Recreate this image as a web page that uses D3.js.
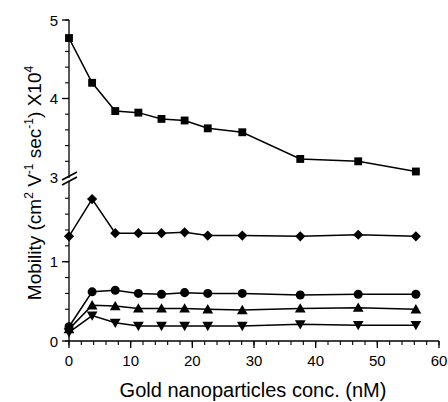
<!DOCTYPE html>
<html>
<head>
<meta charset="utf-8">
<script src="https://d3js.org/d3.v7.min.js"></script>
<style>
  body { margin: 0; background: #fff; }
  text { font-family: "Liberation Sans", Arial, sans-serif; fill: #000; }
</style>
</head>
<body>
<div id="chart"></div>
<script>
// data
const conc = [0, 3.75, 7.5, 11.25, 15, 18.75, 22.5, 28.1, 37.5, 46.9, 56.25];
const squareVals   = [4.77, 4.20, 3.84, 3.82, 3.74, 3.72, 3.62, 3.57, 3.23, 3.20, 3.07];
const diamondVals  = [1.32, 1.79, 1.36, 1.36, 1.36, 1.37, 1.33, 1.33, 1.32, 1.34, 1.32];
const circleVals   = [0.18, 0.62, 0.64, 0.60, 0.59, 0.61, 0.60, 0.60, 0.58, 0.59, 0.59];
const triangleVals = [0.15, 0.45, 0.44, 0.41, 0.41, 0.41, 0.40, 0.39, 0.41, 0.42, 0.40];
const invTriVals   = [0.11, 0.32, 0.23, 0.19, 0.19, 0.19, 0.19, 0.19, 0.21, 0.20, 0.20];
const xTicks = [0, 10, 20, 30, 40, 50, 60];
const yLowTicks = [0, 1];
const yHighTicks = [3, 4, 5];

const width = 448, height = 402;
const svg = d3.select("#chart").append("svg")
    .attr("width", width)
    .attr("height", height);

//  scales: one x, two y (broken axis)
const x = d3.scaleLinear().domain([0, 60]).range([69, 439]);
const yLow = d3.scaleLinear().domain([0, 2]).range([341, 182.4]);
const yHigh = d3.scaleLinear().domain([3, 5]).range([177, 20]);

const axisColor = "#000";

//  x axis
const xAxis = svg.append("g").attr("transform", `translate(0,${341})`);
xAxis.append("line").attr("x1", 69).attr("x2", 439).attr("stroke", axisColor).attr("stroke-width", 1.3);
xAxis.selectAll(".minor").data(d3.range(0, 61, 2)).join("line")
    .attr("x1", d => x(d)).attr("x2", d => x(d))
    .attr("y1", 0).attr("y2", 4)
    .attr("stroke", axisColor).attr("stroke-width", 1.1);
xAxis.selectAll(".major").data(xTicks).join("line")
    .attr("x1", d => x(d)).attr("x2", d => x(d))
    .attr("y1", 0).attr("y2", 7)
    .attr("stroke", axisColor).attr("stroke-width", 1.3);
xAxis.selectAll("text").data(xTicks).join("text")
    .attr("x", d => x(d)).attr("y", 25)
    .attr("text-anchor", "middle")
    .attr("font-size", 15)
    .text(d => d);

//  y axis, two pieces
const yAxis = svg.append("g");
yAxis.append("line").attr("x1", 69).attr("x2", 69).attr("y1", 20).attr("y2", 178)
    .attr("stroke", axisColor).attr("stroke-width", 1.3);
yAxis.append("line").attr("x1", 69).attr("x2", 69).attr("y1", 181).attr("y2", 341)
    .attr("stroke", axisColor).attr("stroke-width", 1.3);

const lowMinor = d3.range(0, 1.81, 0.2);
const highMinor = d3.range(3.2, 5.01, 0.2);
yAxis.selectAll(".lm").data(lowMinor).join("line")
    .attr("x1", 65).attr("x2", 69)
    .attr("y1", d => yLow(d)).attr("y2", d => yLow(d))
    .attr("stroke", axisColor).attr("stroke-width", 1.1);
yAxis.selectAll(".hm").data(highMinor).join("line")
    .attr("x1", 65).attr("x2", 69)
    .attr("y1", d => yHigh(d)).attr("y2", d => yHigh(d))
    .attr("stroke", axisColor).attr("stroke-width", 1.1);
yAxis.selectAll(".lM").data(yLowTicks).join("line")
    .attr("x1", 62).attr("x2", 69)
    .attr("y1", d => yLow(d)).attr("y2", d => yLow(d))
    .attr("stroke", axisColor).attr("stroke-width", 1.3);
yAxis.selectAll(".hM").data(yHighTicks.filter(d => d > 3)).join("line")
    .attr("x1", 62).attr("x2", 69)
    .attr("y1", d => yHigh(d)).attr("y2", d => yHigh(d))
    .attr("stroke", axisColor).attr("stroke-width", 1.3);
yAxis.selectAll(".ll").data(yLowTicks).join("text")
    .attr("x", 58).attr("y", d => yLow(d) + 5.5)
    .attr("text-anchor", "end").attr("font-size", 15)
    .text(d => d);
yAxis.selectAll(".hl").data(yHighTicks).join("text")
    .attr("x", 58).attr("y", d => yHigh(d) + 5.5)
    .attr("text-anchor", "end").attr("font-size", 15)
    .text(d => d);

//  break marks
[0, 5].forEach(off => {
    yAxis.append("line")
        .attr("x1", 62).attr("y1", 180 + off)
        .attr("x2", 77).attr("y2", 172 + off)
        .attr("stroke", axisColor).attr("stroke-width", 1.6);
});

//  titles
svg.append("text")
    .attr("x", 253).attr("y", 397)
    .attr("text-anchor", "middle")
    .attr("font-size", 20)
    .text("Gold nanoparticles conc. (nM)");

const yTitle = svg.append("text")
    .attr("transform", "translate(41,183) rotate(-90)")
    .attr("text-anchor", "middle")
    .attr("font-size", 19);
yTitle.append("tspan").text("Mobility (cm");
yTitle.append("tspan").attr("dy", -8).attr("font-size", 12).text("2");
yTitle.append("tspan").attr("dy", 8).text(" V");
yTitle.append("tspan").attr("dy", -8).attr("font-size", 12).text("-1");
yTitle.append("tspan").attr("dy", 8).text(" sec");
yTitle.append("tspan").attr("dy", -8).attr("font-size", 12).text("-1");
yTitle.append("tspan").attr("dy", 8).text(") X10");
yTitle.append("tspan").attr("dy", -8).attr("font-size", 12).text("4");

//  series
const series = [
    {vals: squareVals, y: yHigh, shape: d3.symbolSquare, size: 62, rot: 0, dy: 0},
    {vals: diamondVals, y: yLow, shape: d3.symbolSquare, size: 52, rot: 45, dy: 0},
    {vals: circleVals, y: yLow, shape: d3.symbolCircle, size: 64, rot: 0, dy: 0},
    {vals: triangleVals, y: yLow, shape: d3.symbolTriangle, size: 50, rot: 0, dy: 1},
    {vals: invTriVals, y: yLow, shape: d3.symbolTriangle, size: 50, rot: 180, dy: -1}
];

series.forEach(s => {
    const pts = conc.map((c, i) => [x(c), s.y(s.vals[i])]);
    svg.append("path")
        .attr("d", d3.line()(pts))
        .attr("fill", "none")
        .attr("stroke", "#000")
        .attr("stroke-width", 1.5);
    svg.append("g").selectAll("path").data(pts).join("path")
        .attr("d", d3.symbol().type(s.shape).size(s.size))
        .attr("transform", d => `translate(${d[0]},${d[1] + s.dy}) rotate(${s.rot})`)
        .attr("fill", "#000");
});
</script>
</body>
</html>
